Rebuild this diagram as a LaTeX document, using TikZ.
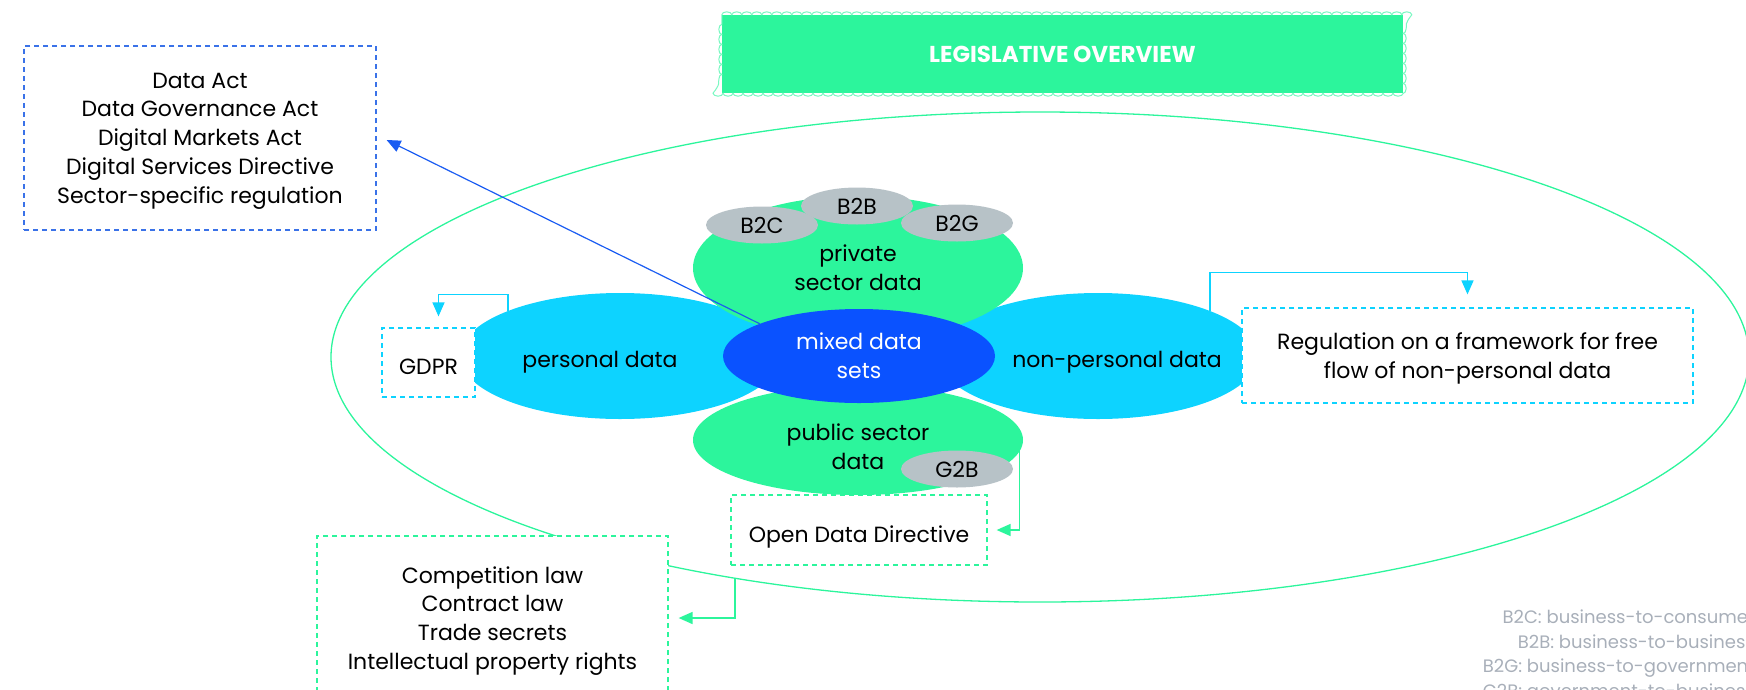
\documentclass[tikz,border=0pt]{standalone}
\usepackage{fontspec}
\setmainfont{Poppins}
\usetikzlibrary{shapes.geometric,arrows.meta,decorations.pathmorphing,positioning}
\definecolor{mintgreen}{HTML}{2CF59C}
\definecolor{mintrim}{HTML}{7AF8C2}
\definecolor{skycyan}{HTML}{0DD3FF}
\definecolor{mixblue}{HTML}{0A52FF}
\definecolor{pebble}{HTML}{B7C2C7}
\definecolor{linkblue}{HTML}{1A5CF2}
\definecolor{dashblue}{HTML}{3A72E8}
\definecolor{legendgray}{HTML}{A8AFB9}
\tikzset{
	every blob/.style={
		ellipse,
		draw=none,
		inner sep=0pt
	},
	cyan blob/.style={
		every blob,
		fill=skycyan,
		minimum width=320pt,
		minimum height=126pt
	},
	green blob/.style={
		every blob,
		fill=mintgreen,
		minimum width=330pt
	},
	tag blob/.style={
		every blob,
		fill=pebble,
		minimum width=112pt,
		minimum height=37pt
	},
	law box/.style={
		draw,
		dash pattern=on 5pt off 4pt,
		line width=1.2pt,
		fill=white,
		align=center,
		inner sep=0pt,
		text depth=-2pt
	},
	one line/.style={
		text height=24pt,
		text depth=0pt
	},
	link/.style={
		line width=1.5pt
	},
}

\begin{document}
\begin{tikzpicture}[x=1pt, y=-1pt, >={Triangle[length=14pt,width=12pt]},
	every node/.style={font=\fontsize{22}{28.8}\selectfont}]

\useasboundingbox (0,0) rectangle (1746,689);
\clip (0,0) rectangle (1746,689);

\node [every blob, draw=mintgreen, line width=1.3pt, minimum width=1418pt, minimum height=490pt] (dataspace) at (1040,357) {};

\node [cyan blob] (personal) at (620,356) {};
\node [cyan blob] (nonpersonal) at (1098,356) {};
\node (personaltext) at (600,362) {personal data};
\node (nonpersonaltext) at (1117,362) {non-personal data};

\node [green blob, minimum height=144pt, align=center] (private) at (858,268) {private\\sector data};
\node [green blob, minimum height=110pt] (public) at (858,440) {};
\node [align=center] (publictext) at (858,447) {public sector\\data};

\foreach \n/\t/\x/\y in {b2c/B2C/762/225, b2b/B2B/857/206, b2g/B2G/957/223, g2b/G2B/957/469}
	\node [tag blob] (\n) at (\x,\y) {\t};

\node [every blob, fill=mixblue, text=white, align=center, minimum width=272pt, minimum height=94pt] (mixed) at (859,356) {mixed data\\sets};

\node [law box, draw=dashblue, minimum width=352pt, minimum height=184pt] (dataacts) at (200,138)
	{Data Act\\Data Governance Act\\Digital Markets Act\\Digital Services Directive\\Sector-specific regulation};
\node [law box, one line, draw=skycyan, minimum width=93pt, minimum height=69pt] (gdpr) at (428.5,362.5) {GDPR};
\node [law box, draw=skycyan, minimum width=451pt, minimum height=95pt] (freeflow) at (1467.5,355.5)
	{Regulation on a framework for free\\flow of non-personal data};
\node [law box, one line, draw=mintgreen, minimum width=256pt, minimum height=70pt] (opendata) at (859,530) {Open Data Directive};
\node [law box, text depth=0pt, draw=mintgreen, minimum width=351pt, minimum height=164pt] (contract) at (492.5,618)
	{Competition law\\Contract law\\Trade secrets\\Intellectual property rights};

\node [fill=mintgreen, text=white, minimum width=681pt, minimum height=78pt, inner sep=0pt,
	font=\fontsize{23}{27}\selectfont\bfseries] (title) at (1062.5,54) {LEGISLATIVE OVERVIEW};
\draw [mintrim, line width=1pt, decorate, decoration={bumps, segment length=20pt, amplitude=3pt}]
	(title.north west) -- (title.north east) -- (title.south east) -- (title.south west) -- cycle;

\node [anchor=north east, align=right, text=legendgray, inner sep=0pt, font=\fontsize{18}{24.5}\selectfont] (legend) at (1755,610)
	{B2C: business-to-consumer\\B2B: business-to-business\\B2G: business-to-government\\G2B: government-to-business};

\draw [->, linkblue, line width=1.2pt] (mixed.162) -- ([xshift=10pt,yshift=-2pt]dataacts.east);
\draw [->, link, skycyan] (personal.158) |- ([xshift=10pt,yshift=33pt]gdpr.north) -- ([xshift=10pt,yshift=11pt]gdpr.north);
\draw [->, link, skycyan] (nonpersonal.22) |- ([yshift=35pt]freeflow.north) -- ([yshift=13pt]freeflow.north);
\draw [->, link, mintgreen] (public.-4) |- ([xshift=9pt]opendata.east);
\draw [->, link, mintgreen] (dataspace.216) |- ([xshift=10pt]contract.east);

\end{tikzpicture}
\end{document}
